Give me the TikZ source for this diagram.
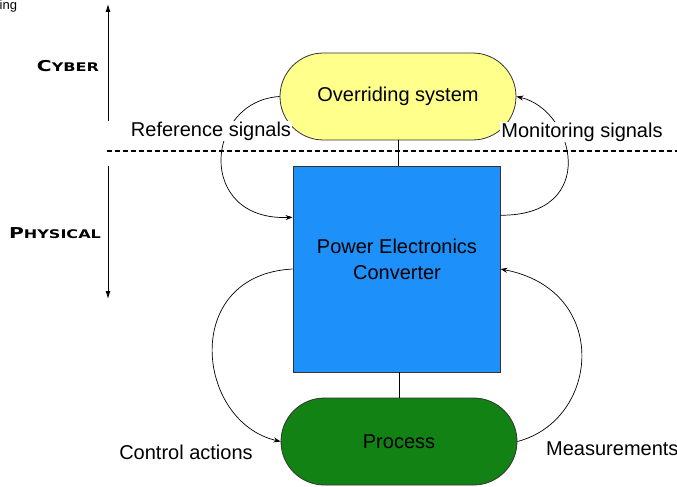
\documentclass[tikz,border=0pt]{standalone}
\usepackage{fontspec}
\setmainfont{Liberation Sans}
\newfontfamily\capsfont{DejaVu Sans}[BoldFont={DejaVu Sans Bold}]
\usepackage{graphicx}
\usetikzlibrary{arrows.meta,calc}

\definecolor{ovfill}{RGB}{255,255,140}
\definecolor{pefill}{RGB}{30,144,250}
\definecolor{prfill}{RGB}{18,130,20}

\tikzset{
  stadium/.style={draw=black!80, line width=0.8pt, rounded corners=43.5pt,
    minimum width=236pt, minimum height=87pt, font=\fontsize{20}{24}\selectfont},
  convbox/.style={draw=black!80, line width=0.8pt, fill=pefill,
    minimum width=207pt, minimum height=206pt},
  lbl/.style={font=\fontsize{20}{24}\selectfont, inner sep=0pt},
  layer/.style={font=\capsfont\bfseries, inner sep=0pt},
  flow/.style={line width=0.7pt, -{Stealth[length=7pt,width=5pt]}},
  axis/.style={line width=0.9pt, -{Latex[length=8pt,width=5pt]}},
  link/.style={line width=0.8pt}
}

\newcommand{\layercaps}[2]{\scalebox{1.35}[1]{{\fontsize{15}{15}\selectfont #1}{\fontsize{11.9}{11.9}\selectfont #2}}}

\begin{document}
\begin{tikzpicture}[x=1pt,y=-1pt]
  \useasboundingbox (0,0) rectangle (677,487);

  % truncated caption fragment
  \node[anchor=west, font=\fontsize{13}{13}\selectfont, inner sep=0pt] (frag) at (-0.5,6) {ing};

  % layer axis
  \coordinate (axtopA) at (108,121);
  \coordinate (axtopB) at (108,4);
  \coordinate (axbotA) at (108,166);
  \coordinate (axbotB) at (108,299);
  \draw[axis] (axtopA) -- (axtopB);
  \draw[axis] (axbotA) -- (axbotB);
  \node[layer] (cyber) at (68,66) {\layercaps{C}{YBER}};
  \node[layer] (phys) at (55,233) {\layercaps{P}{HYSICAL}};

  % cyber / physical boundary
  \coordinate (bndA) at (107,151);
  \coordinate (bndB) at (677,151);
  \draw[line width=2pt, dash pattern=on 5pt off 3pt] (bndA) -- (bndB);

  % blocks
  \node[stadium, fill=ovfill] (ov) at (398,96.5) {Overriding system};
  \node[convbox] (pec) at (396.5,269) {};
  \node[align=center, font=\fontsize{20}{26}\selectfont, inner sep=0pt] (pectext) at (397,259)
    {Power Electronics\\Converter};
  \node[stadium, fill=prfill] (pr) at (399,441.5) {Process};

  \draw[link] (ov.south) -- (ov.south |- pec.north);
  \draw[link] (pec.south -| pr.north) -- (pr.north);

  % signal paths
  \coordinate (pecWu) at ($(pec.north west)!0.25!(pec.south west)$);
  \coordinate (pecEu) at ($(pec.north east)!0.24!(pec.south east)$);

  \draw[flow] (ov.west) .. controls (205,101) and (195,221) .. (pecWu);
  \draw[flow] (pecEu) .. controls (600,216) and (575,110) .. (ov.east);
  \draw[flow] (pec.west) .. controls (180,275) and (196,422) .. (pr.west);
  \draw[flow] (pr.east) .. controls (600,420) and (611,290) .. (pec.east);

  % labels
  \node[lbl, fill=white, inner sep=1pt] (lref) at (211,131) {Reference signals};
  \node[lbl, fill=white, inner sep=1pt] (lmon) at (582,132) {Monitoring signals};
  \node[lbl] (lctl) at (186,452) {Control actions};
  \node[lbl, anchor=west] (lmeas) at (546,449) {Measurements};
\end{tikzpicture}
\end{document}
